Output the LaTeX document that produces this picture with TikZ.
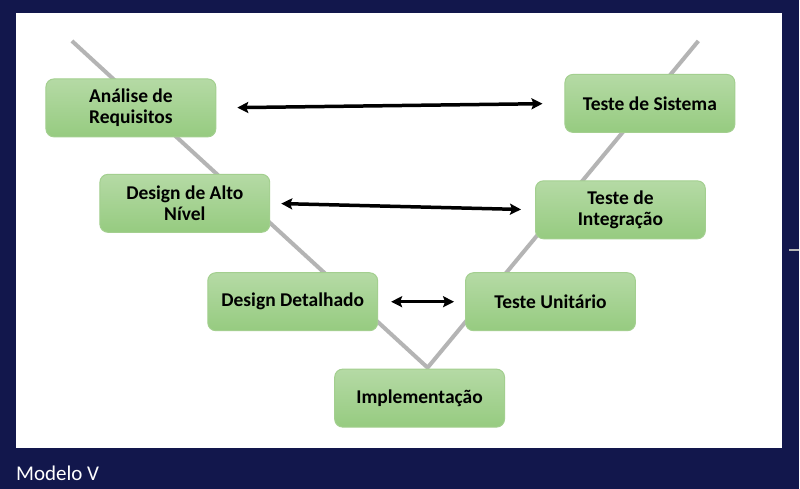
\documentclass[tikz,border=0pt]{standalone}
\usepackage{fontspec}
\setmainfont{Carlito}
\usetikzlibrary{arrows.meta}

\definecolor{navy}{HTML}{12174C}
\definecolor{boxtop}{HTML}{B5DAA5}
\definecolor{boxbot}{HTML}{96CB80}
\definecolor{boxline}{HTML}{A3CF8F}
\definecolor{vgray}{HTML}{B4B4B4}

\begin{document}
\begin{tikzpicture}[x=1pt, y=-1pt,
    box/.style={draw=boxline, line width=1pt, rounded corners=8pt,
        top color=boxtop, bottom color=boxbot,
        minimum width=170pt, minimum height=58pt, align=center,
        font=\fontsize{19.5}{21.5}\selectfont\bfseries, text=black},
    vline/.style={draw=vgray, line width=4pt},
    link/.style={{Stealth[length=11pt,width=11pt,inset=2pt]}-{Stealth[length=11pt,width=11pt,inset=2pt]}, line width=3.5pt, black}]

    % background and slide panel
    \fill[navy] (0,0) rectangle (800,489);
    \fill[white] (16,13) rectangle (783,448);
    \draw[vgray, line width=1.5pt] (790,250) -- (800,250);

    % --- the V ---
    \coordinate (vl) at (72,41);
    \coordinate (vb) at (428,368);
    \coordinate (vr) at (699,41);
    \draw[vline] (vl) -- (vb) -- (vr);

    % --- phases ---
    \node[box] (req)   at (131,108)   {Análise de\\Requisitos};
    \node[box] (alto)  at (185,203.5) {Design de Alto\\Nível};
    \node[box] (det)   at (293,302)   {Design Detalhado};
    \node[box] (impl)  at (420,398.5) {Implementação};
    \node[box] (unit)  at (551,302)   {Teste Unitário};
    \node[box] (integ) at (621,210)   {Teste de\\Integração};
    \node[box] (sis)   at (650.5,103.5) {Teste de Sistema};

    % --- links between levels ---
    \draw[link, shorten <=21pt, shorten >=22pt] (req.east) -- (sis.west);
    \draw[link, shorten <=11pt, shorten >=14pt] (alto.east) -- (integ.west);
    \draw[link, shorten <=13pt, shorten >=11pt] (det.east) -- (unit.west);

    \node[anchor=base west, inner sep=0pt, text=white, font=\fontsize{21}{25}\selectfont] (title) at (16,481) {Modelo V};

\end{tikzpicture}
\end{document}
